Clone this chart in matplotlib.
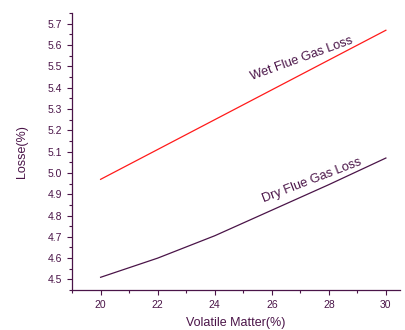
import matplotlib
matplotlib.use("Agg")
import matplotlib.pyplot as plt
from matplotlib.ticker import MultipleLocator

volatile = [20, 22, 24, 26, 28, 30]
wet_loss = [4.97, 5.11, 5.25, 5.39, 5.53, 5.67]
dry_loss = [4.51, 4.60, 4.705, 4.825, 4.945, 5.07]

purple = "#4a1448"
plt.rcParams["font.family"] = ["Liberation Sans", "DejaVu Sans"]

fig = plt.figure(figsize=(4.05, 3.3), dpi=100)
ax = fig.add_axes([0.178, 0.121, 0.81, 0.839])

ax.plot(volatile, wet_loss, color="#ff1a1a", linewidth=0.9)
ax.plot(volatile, dry_loss, color=purple, linewidth=0.9)

ax.set_xlim(19, 30.5)
ax.set_ylim(4.45, 5.75)
ax.xaxis.set_major_locator(MultipleLocator(2))
ax.xaxis.set_minor_locator(MultipleLocator(1))
ax.yaxis.set_major_locator(MultipleLocator(0.1))
ax.yaxis.set_minor_locator(MultipleLocator(0.05))
ax.yaxis.set_major_formatter(plt.FormatStrFormatter("%.1f"))

for s in ["top", "right"]:
    ax.spines[s].set_visible(False)
for s in ["left", "bottom"]:
    ax.spines[s].set_color(purple)
    ax.spines[s].set_linewidth(0.9)

ax.tick_params(which="both", direction="out", colors=purple, labelsize=7.5, width=0.8)
ax.tick_params(which="major", length=3.5)
ax.tick_params(which="minor", length=2)

ax.set_xlabel("Volatile Matter(%)", fontsize=9, color=purple, labelpad=5)
ax.set_ylabel("Losse(%)", fontsize=9, color=purple, labelpad=14)

ax.text(27.05, 5.535, "Wet Flue Gas Loss", rotation=20, fontsize=9.2, color=purple,
        ha="center", va="center")
ax.text(27.4, 4.965, "Dry Flue Gas Loss", rotation=21, fontsize=9.2, color=purple,
        ha="center", va="center")

fig.savefig("out.png", dpi=100)
